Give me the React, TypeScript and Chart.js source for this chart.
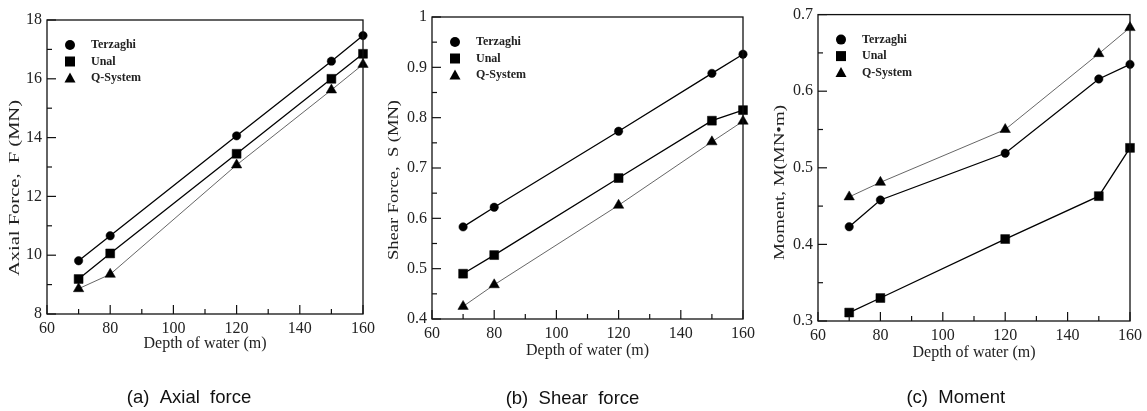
import React, { useEffect, useRef } from "react";
import { Chart, registerables } from "chart.js";

Chart.register(...registerables);

// ---------- data ----------
const depths = [70, 80, 120, 150, 160];
const seriesNames = ["Terzaghi", "Unal", "Q-System"];

const axialTerzaghi = [9.81, 10.66, 14.06, 16.6, 17.47];
const axialUnal = [9.19, 10.06, 13.45, 16.0, 16.85];
const axialQ = [8.86, 9.35, 13.07, 15.62, 16.49];

const shearTerzaghi = [0.583, 0.622, 0.773, 0.888, 0.926];
const shearUnal = [0.49, 0.527, 0.68, 0.794, 0.815];
const shearQ = [0.425, 0.468, 0.626, 0.752, 0.793];

const momentTerzaghi = [0.423, 0.458, 0.519, 0.616, 0.635];
const momentUnal = [0.311, 0.33, 0.407, 0.463, 0.526];
const momentQ = [0.462, 0.481, 0.55, 0.649, 0.683];

const xTickLabels = ["60", "80", "100", "120", "140", "160"];
const axialTickLabels = ["8", "10", "12", "14", "16", "18"];
const shearTickLabels = ["0.4", "0.5", "0.6", "0.7", "0.8", "0.9", "1"];
const momentTickLabels = ["0.3", "0.4", "0.5", "0.6", "0.7"];

const CANVAS_H = 411;
const SERIF = "'Liberation Serif', 'Times New Roman', serif";
const SANS = "'Liberation Sans', Arial, sans-serif";

type Panel = {
  left: number;
  width: number;
  area: { l: number; t: number; r: number; b: number };
  yMin: number;
  yMax: number;
  yStep: number;
  yMinor: number;
  yLabels: string[];
  yTitle: string;
  yTitlePos: { x: number; y: number; len: number };
  xTitleY: number;
  caption: string;
  captionPos: { x: number; y: number };
  series: number[][];
};

const panels: Panel[] = [
  {
    left: 0,
    width: 380,
    area: { l: 47, t: 20, r: 363, b: 314 },
    yMin: 8,
    yMax: 18,
    yStep: 2,
    yMinor: 1,
    yLabels: axialTickLabels,
    yTitle: "Axial Force,  F (MN)",
    yTitlePos: { x: 15.5, y: 188, len: 176 },
    xTitleY: 344,
    caption: "(a)  Axial  force",
    captionPos: { x: 189, y: 398 },
    series: [axialTerzaghi, axialUnal, axialQ],
  },
  {
    left: 380,
    width: 380,
    area: { l: 52, t: 17, r: 365, b: 319 },
    yMin: 0.4,
    yMax: 1,
    yStep: 0.1,
    yMinor: 0.05,
    yLabels: shearTickLabels,
    yTitle: "Shear Force,  S (MN)",
    yTitlePos: { x: 14, y: 180, len: 160 },
    xTitleY: 351,
    caption: "(b)  Shear  force",
    captionPos: { x: 192.5, y: 399 },
    series: [shearTerzaghi, shearUnal, shearQ],
  },
  {
    left: 760,
    width: 387,
    area: { l: 58, t: 13, r: 370, b: 321 },
    yMin: 0.3,
    yMax: 0.7,
    yStep: 0.1,
    yMinor: 0.05,
    yLabels: momentTickLabels,
    yTitle: "Moment, M(MN\u2022m)",
    yTitlePos: { x: 20, y: 182.5, len: 155 },
    xTitleY: 353,
    caption: "(c)  Moment",
    captionPos: { x: 195.8, y: 398 },
    series: [momentTerzaghi, momentUnal, momentQ],
  },
];

const pointStyles = ["circle", "rect", "triangle"] as const;
const pointRadii = [4.2, 6.3, 6];
const lineColors = ["#000000", "#000000", "#555555"];
const lineWidths = [1.3, 1.3, 0.9];

function drawStretchedText(
  ctx: CanvasRenderingContext2D,
  text: string,
  x: number,
  y: number,
  len: number,
  rotate: boolean
) {
  ctx.save();
  ctx.translate(x, y);
  if (rotate) ctx.rotate(-Math.PI / 2);
  const w = ctx.measureText(text).width;
  const s = len / w;
  ctx.scale(s, 1);
  ctx.textAlign = "center";
  ctx.textBaseline = "middle";
  ctx.fillText(text, 0, 0);
  ctx.restore();
}

const decorPlugin = {
  id: "panelDecor",
  afterDraw(chart: any, _args: any, opts: any) {
    const p: Panel = opts.panel;
    if (!p) return;
    const ctx: CanvasRenderingContext2D = chart.ctx;
    const { left, top, right, bottom } = chart.chartArea;
    const xs = chart.scales.x;
    const ys = chart.scales.y;
    ctx.save();
    // frame
    ctx.strokeStyle = "#111";
    ctx.lineWidth = 1.3;
    ctx.strokeRect(left, top, right - left, bottom - top);
    // x ticks (inward), major every 20, minor every 10
    ctx.lineWidth = 1.2;
    const xMin = xs.min, xMax = xs.max;
    const nx = Math.round((xMax - xMin) / 10);
    for (let i = 0; i <= nx; i++) {
      const v = xMin + i * 10;
      const px = xs.getPixelForValue(v);
      const len = i % 2 === 0 ? 9 : 5;
      ctx.beginPath();
      ctx.moveTo(px, bottom);
      ctx.lineTo(px, bottom - len);
      ctx.stroke();
    }
    // y ticks (inward)
    const ny = Math.round((p.yMax - p.yMin) / p.yMinor);
    const ratio = Math.round(p.yStep / p.yMinor);
    for (let i = 0; i <= ny; i++) {
      const v = p.yMin + i * p.yMinor;
      const py = ys.getPixelForValue(v);
      const len = i % ratio === 0 ? 9 : 5;
      ctx.beginPath();
      ctx.moveTo(left, py);
      ctx.lineTo(left + len, py);
      ctx.stroke();
    }
    // legend inside plot
    const mx = left + 23;
    const rows = [25, 41.5, 58];
    for (let k = 0; k < 3; k++) {
      const cy = top + rows[k];
      ctx.fillStyle = "#000";
      ctx.beginPath();
      if (k === 0) {
        ctx.arc(mx, cy, 5, 0, Math.PI * 2);
      } else if (k === 1) {
        ctx.rect(mx - 5, cy - 5, 10, 10);
      } else {
        ctx.moveTo(mx, cy - 5.5);
        ctx.lineTo(mx + 5.5, cy + 4.5);
        ctx.lineTo(mx - 5.5, cy + 4.5);
        ctx.closePath();
      }
      ctx.fill();
      ctx.font = `bold 12px ${SERIF}`;
      ctx.fillStyle = "#222";
      ctx.textAlign = "left";
      ctx.textBaseline = "middle";
      ctx.fillText(seriesNames[k], mx + 21, cy);
    }
    // axis titles
    ctx.fillStyle = "#222";
    ctx.font = `16px ${SERIF}`;
    ctx.textAlign = "center";
    ctx.textBaseline = "middle";
    ctx.fillText("Depth of water (m)", (left + right) / 2, p.xTitleY);
    ctx.font = `15px ${SERIF}`;
    drawStretchedText(ctx, p.yTitle, p.yTitlePos.x, p.yTitlePos.y, p.yTitlePos.len, true);
    // caption
    ctx.font = `18.5px ${SANS}`;
    ctx.fillStyle = "#111";
    ctx.textAlign = "center";
    ctx.textBaseline = "middle";
    ctx.fillText(p.caption, p.captionPos.x, p.captionPos.y);
    ctx.restore();
  },
};

function PanelChart({ panel }: { panel: Panel }) {
  const ref = useRef<HTMLCanvasElement | null>(null);
  useEffect(() => {
    if (!ref.current) return;
    const datasets = panel.series.map((vals, k) => ({
      label: seriesNames[k],
      data: depths.map((d, i) => ({ x: d, y: vals[i] })),
      showLine: true,
      clip: false,
      borderColor: lineColors[k],
      borderWidth: lineWidths[k],
      pointStyle: pointStyles[k],
      pointRadius: pointRadii[k],
      pointBackgroundColor: "#000",
      pointBorderColor: "#000",
      pointBorderWidth: 0.5,
      tension: 0,
    }));
    const a = panel.area;
    const chart = new Chart(ref.current, {
      type: "scatter",
      data: { datasets },
      plugins: [decorPlugin],
      options: {
        animation: false,
        responsive: false,
        devicePixelRatio: 1,
        layout: { padding: { top: a.t, right: panel.width - a.r, left: 0, bottom: 0 } },
        plugins: {
          legend: { display: false },
          tooltip: { enabled: false },
          panelDecor: { panel },
        } as any,
        scales: {
          x: {
            type: "linear",
            min: 60,
            max: 160,
            grid: { display: false, drawTicks: false },
            border: { display: false },
            ticks: {
              stepSize: 20,
              padding: 5,
              color: "#222",
              font: { family: SERIF, size: 16 },
              callback: (v: any) => {
                const idx = Math.round((Number(v) - 60) / 20);
                return xTickLabels[idx] ?? "";
              },
            },
            afterFit: (s: any) => {
              s.height = CANVAS_H - a.b;
            },
          },
          y: {
            type: "linear",
            min: panel.yMin,
            max: panel.yMax,
            grid: { display: false, drawTicks: false },
            border: { display: false },
            ticks: {
              stepSize: panel.yStep,
              padding: 5,
              color: "#222",
              font: { family: SERIF, size: 16 },
              callback: (v: any) => {
                const idx = Math.round((Number(v) - panel.yMin) / panel.yStep);
                return panel.yLabels[idx] ?? "";
              },
            },
            afterFit: (s: any) => {
              s.width = a.l;
            },
          },
        },
      } as any,
    });
    return () => chart.destroy();
  }, [panel]);
  return (
    <canvas
      ref={ref}
      width={panel.width}
      height={CANVAS_H}
      style={{
        position: "absolute",
        left: panel.left,
        top: 0,
        width: panel.width,
        height: CANVAS_H,
      }}
    />
  );
}

export default function App() {
  return (
    <div style={{ position: "absolute", left: 0, top: 0, width: 1147, height: 411, background: "#fff" }}>
      {panels.map((p, i) => (
        <PanelChart key={i} panel={p} />
      ))}
    </div>
  );
}
